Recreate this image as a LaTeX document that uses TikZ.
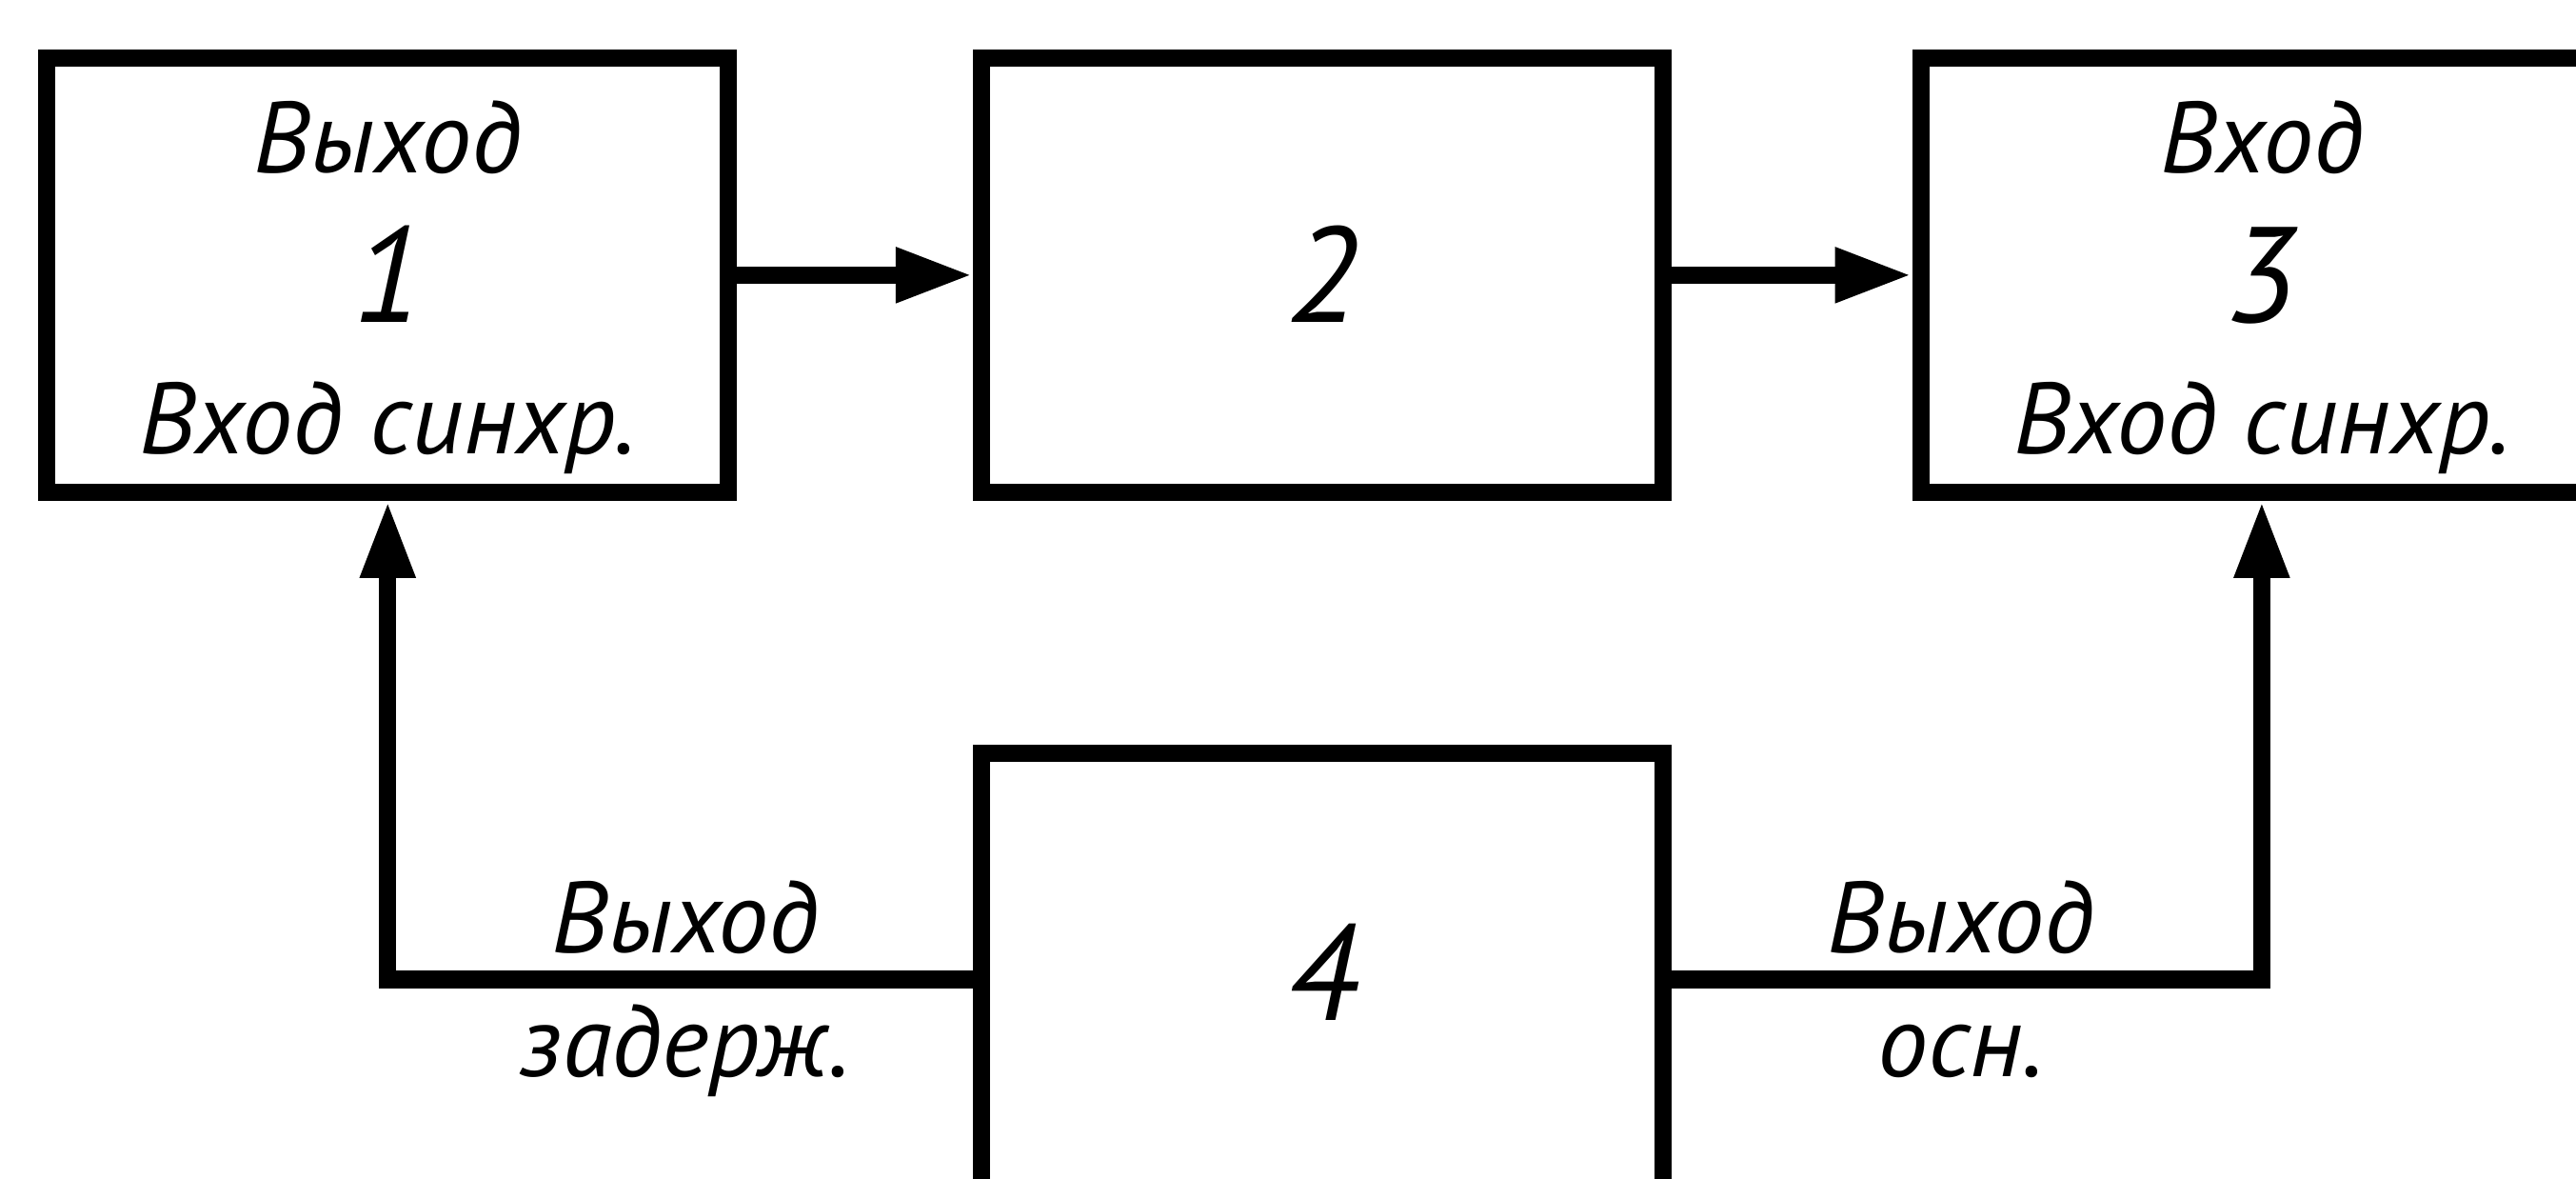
\documentclass[tikz,border=0pt]{standalone}
\usepackage{fontspec}
\setmainfont{PT Sans}
\usetikzlibrary{arrows.meta}
\begin{document}
\begin{tikzpicture}[
  blk/.style={draw,line width=3pt,minimum width=4.15cm,minimum height=2.64cm,inner sep=0pt},
  conn/.style={line width=3pt,-{Triangle[length=0.47cm,width=0.31cm]}},
  txt/.style={font=\itshape\fontsize{17.5}{20}\selectfont,inner sep=0pt,anchor=base},
  num/.style={font=\itshape\fontsize{23.5}{26}\selectfont,inner sep=0pt,anchor=base}]
  \useasboundingbox (0,0) rectangle (15.68,-7.17);
  \clip (0,0) rectangle (15.68,-7.17);
  % blocks
  \node[blk] (b1) at (2.36,-1.674) {};
  \node[blk] (b2) at (8.05,-1.674) {};
  \node[blk] (b3) at (13.767,-1.674) {};
  \node[blk,minimum height=2.75cm] (b4) at (8.05,-5.96) {};
  % block texts
  \node[txt] (t1a) at ([yshift=0.62cm]b1.center) {Выход};
  \node[num] (t1n) at ([yshift=-0.29cm]b1.center) {1};
  \node[txt] (t1b) at ([yshift=-1.087cm]b1.center) {Вход синхр.};
  \node[num] (t2n) at ([yshift=-0.29cm]b2.center) {2};
  \node[txt] (t3a) at ([yshift=0.62cm]b3.center) {Вход};
  \node[num] (t3n) at ([yshift=-0.29cm]b3.center) {3};
  \node[txt] (t3b) at ([yshift=-1.087cm]b3.center) {Вход синхр.};
  \node[num] (t4n) at ([yshift=-0.25cm]b4.center) {4};
  % connectors
  \draw[conn] (b1) -- (b2);
  \draw[conn] (b2) -- (b3);
  \draw[conn] (b4.west) -| (b1.south);
  \draw[conn] (b4.east) -| (b3.south);
  \node[txt] (l1a) at (4.17,-5.796) {Выход};
  \node[txt] (l1b) at (4.17,-6.548) {задерж.};
  \node[txt] (l2a) at (11.935,-5.796) {Выход};
  \node[txt] (l2b) at (11.935,-6.548) {осн.};
\end{tikzpicture}
\end{document}
